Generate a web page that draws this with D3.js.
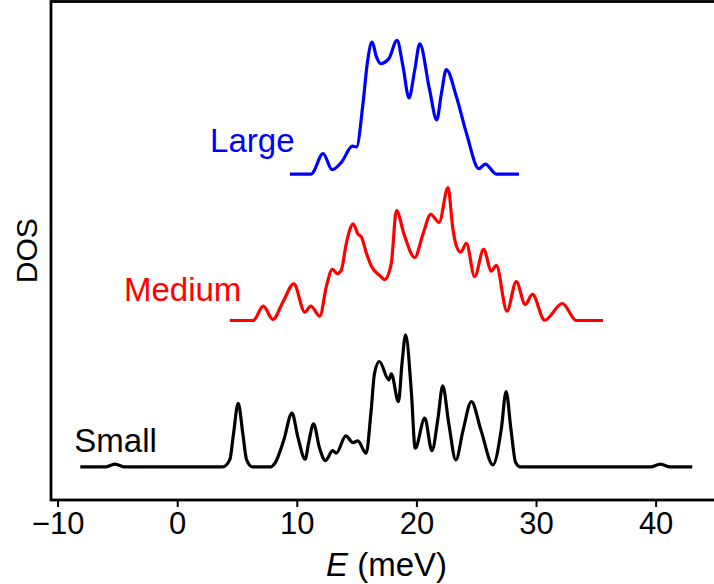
<!DOCTYPE html>
<html>
<head>
<meta charset="utf-8">
<script src="https://cdn.jsdelivr.net/npm/d3@7/dist/d3.min.js"></script>
<style>
  html, body { margin: 0; padding: 0; background: #fff; }
  svg { display: block; }
  text { font-family: "Liberation Sans", Arial, sans-serif; }
</style>
</head>
<body>
<svg id="chart" width="714" height="584"></svg>
<script>
// ---- data (E in meV, DOS in arbitrary units) ----
const seriesNames = ["Small", "Medium", "Large"];
const seriesColors = ["#000000", "#ff0000", "#0000ff"];
const seriesOffsets = [0, 1, 2];

const smallE = [-8.1, -6.0, -5.2, -4.4, 3.8, 4.4, 4.7, 5.1, 5.5, 5.8, 6.3, 7.8,
  8.2, 8.9, 9.6, 10.1, 10.7, 11.0, 11.4, 11.9, 12.4, 13.0, 13.3, 14.1, 14.7, 15.1, 15.8,
  16.2, 16.5, 16.9, 17.7, 17.9, 18.5, 18.8, 19.1, 19.58, 19.9, 20.7, 21.3, 21.8, 22.2, 22.7,
  23.3, 23.9, 24.6, 25.4, 26.4, 27.1, 27.5, 27.9, 28.3, 28.7, 39.6, 40.4, 41.2, 43.06];
const smallDOS = [0, 0, 0.02, 0, 0, 0.05, 0.22, 0.435, 0.22, 0.05, 0, 0,
  0.03, 0.18, 0.367, 0.2, 0.053, 0.17, 0.294, 0.13, 0.043, 0.111, 0.094, 0.212, 0.166, 0.178, 0.094,
  0.37, 0.64, 0.72, 0.595, 0.636, 0.446, 0.71, 0.902, 0.51, 0.128, 0.333, 0.111, 0.33, 0.554, 0.30,
  0.048, 0.25, 0.446, 0.25, 0.014, 0.26, 0.515, 0.26, 0.03, 0, 0, 0.02, 0, 0];

const mediumE = [4.4, 6.35, 7.2, 8.0, 8.86, 9.75, 10.67, 11.17, 11.92, 12.48, 12.98, 13.4, 13.7,
  14.15, 14.43, 14.7, 15.13, 15.4, 15.82, 16.24, 16.9, 17.35, 17.9, 18.33, 19.0, 19.86, 20.55, 21.2, 21.9, 22.64,
  23.06, 23.34, 23.7, 24.18, 24.87, 25.62, 26.27, 26.68, 27.57, 28.35, 29.1, 29.7, 30.72,
  32.2, 33.37, 35.6];
const mediumDOS = [0, 0, 0.098, 0.007, 0.13, 0.25, 0.057, 0.098, 0.03, 0.235, 0.35, 0.32, 0.34,
  0.53, 0.62, 0.66, 0.588, 0.57, 0.46, 0.37, 0.31, 0.28, 0.39, 0.75, 0.58, 0.43, 0.59, 0.725, 0.67, 0.907,
  0.62, 0.51, 0.467, 0.526, 0.30, 0.485, 0.337, 0.376, 0.064, 0.265, 0.109, 0.178, 0.002,
  0.116, 0, 0];

const largeE = [9.42, 11.2, 12.2, 12.95, 13.73, 14.65, 14.99, 15.54, 15.9, 16.3, 16.66, 17.0,
  17.68, 18.38, 18.88, 19.38, 19.86, 20.28, 21.1, 21.7, 22.09, 22.5, 23.34, 24.18, 25.23,
  25.76, 26.68, 28.57];
const largeDOS = [0, 0, 0.139, 0.03, 0.08, 0.19, 0.185, 0.485, 0.76, 0.9, 0.80, 0.754,
  0.786, 0.913, 0.735, 0.52, 0.71, 0.889, 0.576, 0.37, 0.55, 0.713, 0.53, 0.28, 0.036,
  0.068, 0, 0];

const xTicks = [-10, 0, 10, 20, 30, 40];
const xDomain = [-10.55, 45.55];
const yDomain = [-0.2256, 3.178];
const xLabel = "(meV)";
const yLabel = "DOS";

// ---- drawing ----
const svg = d3.select("#chart");
const margin = { left: 51, top: 1.5, bottom: 500 };
const plotRight = 722;

const x = d3.scaleLinear().domain(xDomain).range([margin.left, plotRight]);
const y = d3.scaleLinear().domain(yDomain).range([margin.bottom, margin.top]);

const series = [
  { E: smallE, D: smallDOS },
  { E: mediumE, D: mediumDOS },
  { E: largeE, D: largeDOS }
];

const line = d3.line()
  .x(d => x(d[0]))
  .y(d => y(d[1]))
  .curve(d3.curveMonotoneX);

series.forEach((s, i) => {
  const pts = s.E.map((e, j) => [e, s.D[j] + seriesOffsets[i]]);
  svg.append("path")
    .attr("d", line(pts))
    .attr("fill", "none")
    .attr("stroke", seriesColors[i])
    .attr("stroke-width", 3.2)
    .attr("stroke-linejoin", "round")
    .attr("stroke-linecap", "butt");
});

// labels for series
const labelPos = [
  { E: -8.6, v: 0.1 },
  { E: -4.45, v: 1.13 },
  { E: 2.75, v: 2.15 }
];
seriesNames.forEach((name, i) => {
  svg.append("text")
    .attr("x", x(labelPos[i].E))
    .attr("y", y(labelPos[i].v))
    .attr("fill", seriesColors[i])
    .attr("font-size", 33)
    .text(name);
});

// axes
const xAxis = d3.axisBottom(x).tickValues(xTicks).tickSize(7).tickPadding(5)
  .tickFormat(d => d < 0 ? "\u2212" + Math.abs(d) : String(d));
const gx = svg.append("g").attr("transform", `translate(0,${margin.bottom})`).call(xAxis);
gx.select(".domain").remove();
gx.selectAll(".tick line").attr("stroke", "#000").attr("stroke-width", 2);
gx.selectAll(".tick text").attr("font-size", 31).attr("fill", "#000")
  .attr("font-family", "'Liberation Sans', Arial, sans-serif");

// frame (spines)
svg.append("rect")
  .attr("x", margin.left)
  .attr("y", margin.top)
  .attr("width", plotRight - margin.left)
  .attr("height", margin.bottom - margin.top)
  .attr("fill", "none")
  .attr("stroke", "#000")
  .attr("stroke-width", 2.8);

// axis labels
const xl = svg.append("text")
  .attr("x", (margin.left + plotRight) / 2)
  .attr("y", 576)
  .attr("text-anchor", "middle")
  .attr("font-size", 33)
  .attr("fill", "#000");
xl.append("tspan").attr("font-style", "italic").text("E");
xl.append("tspan").text(" " + xLabel);

svg.append("text")
  .attr("transform", `translate(37,${(margin.top + margin.bottom) / 2}) rotate(-90)`)
  .attr("text-anchor", "middle")
  .attr("font-size", 30)
  .attr("fill", "#000")
  .text(yLabel);
</script>
</body>
</html>
